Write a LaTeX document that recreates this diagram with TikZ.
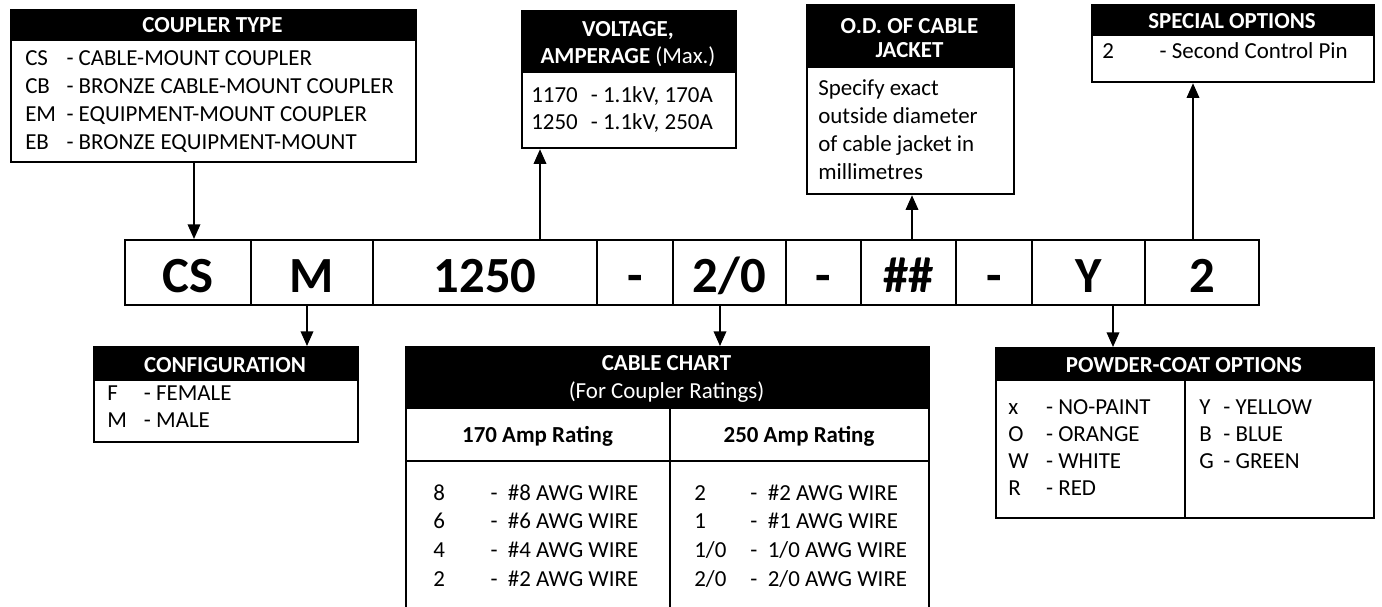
\documentclass[tikz,border=0pt]{standalone}
\usepackage{fontspec}
\setmainfont{Carlito}
\usetikzlibrary{arrows.meta,positioning,calc}
\definecolor{ink}{RGB}{0,0,0}
\newcommand{\px}{0.75pt}
\newcommand{\bodyfont}{\fontsize{17.2}{21}\selectfont}
\newcommand{\cellfont}{\fontsize{38}{40}\selectfont\bfseries}
\newcommand{\cd}[2]{\makebox[#1][l]{#2}}

\begin{document}
\begin{tikzpicture}[x=0.75pt,y=-0.75pt,
  box/.style={draw=ink,line width=1.7pt,anchor=north west,inner sep=0pt},
  head/.style={box,fill=ink},
  htxt/.style={anchor=base,text=white,font=\bodyfont\bfseries,inner sep=0pt},
  txt/.style={anchor=base west,font=\bodyfont,inner sep=0pt},
  cell/.style={draw=ink,line width=1.6pt,inner sep=0pt,minimum height=65*\px,
    text height=45*\px,text depth=6*\px,font=\cellfont},
  arr/.style={draw=ink,line width=1.1pt,-{Triangle[length=11pt,width=9.5pt]}}]
\useasboundingbox (0,0) rectangle (1382,607);

% part number
\foreach \s/\a/\b [count=\i] in {CS/125/251,M/251/373,1250/373/597,-/597/673,{2/0}/673/786,
    -/786/861,\#\#/861/956,-/956/1032,Y/1032/1145,2/1145/1259}
  \node[cell,minimum width=(\b-\a)*\px] (c\i) at ({(\a+\b)/2},272.5) {\s};

% coupler type
\node[box,minimum width=405*\px,minimum height=152*\px] (coupler) at (10,9) {};
\node[head,minimum width=405*\px,minimum height=30*\px] (couplerhd) at (10,9) {};
\node[htxt] (couplert) at (212.5,32) {COUPLER TYPE};
\foreach \k/\s [count=\r from 0] in {CS/CABLE-MOUNT COUPLER,CB/BRONZE CABLE-MOUNT COUPLER,
    EM/EQUIPMENT-MOUNT COUPLER,EB/BRONZE EQUIPMENT-MOUNT}
  \node[txt] (coupler\r) at (25,65+28*\r) {\cd{1.8em}{\k}- \s};

% voltage
\node[box,minimum width=214*\px,minimum height=137*\px] (volt) at (521,10) {};
\node[head,minimum width=214*\px,minimum height=61*\px] (volthd) at (521,10) {};
\node[htxt] (voltt) at (628,36) {VOLTAGE,};
\node[htxt] (voltu) at (628,63) {AMPERAGE \mdseries(Max.)};
\foreach \k/\s [count=\r from 0] in {1170/{1.1kV, 170A},1250/{1.1kV, 250A}}
  \node[txt] (volt\r) at (531,102+27*\r) {\cd{2.6em}{\k}- \s};

% o.d. of cable jacket
\node[box,minimum width=207*\px,minimum height=189*\px] (od) at (806,4) {};
\node[head,minimum width=207*\px,minimum height=62*\px] (odhd) at (806,4) {};
\node[htxt] (odt) at (909.5,33) {O.D. OF CABLE};
\node[htxt] (odu) at (909.5,57) {JACKET};
\foreach \s [count=\r from 0] in {Specify exact,outside diameter,of cable jacket in,millimetres}
  \node[txt] (od\r) at (818,95+28*\r) {\s};

% special options
\node[box,minimum width=282*\px,minimum height=77*\px] (spec) at (1091,4) {};
\node[head,minimum width=282*\px,minimum height=30*\px] (spechd) at (1091,4) {};
\node[htxt] (spect) at (1232,28) {SPECIAL OPTIONS};
\node[txt] (spec0) at (1102,58) {\cd{2.5em}{2}- Second Control Pin};

% configuration
\node[box,minimum width=264*\px,minimum height=95*\px] (conf) at (93,346) {};
\node[head,minimum width=264*\px,minimum height=33*\px] (confhd) at (93,346) {};
\node[htxt] (conft) at (225,372) {CONFIGURATION};
\foreach \k/\s [count=\r from 0] in {F/FEMALE,M/MALE}
  \node[txt] (conf\r) at (107,400+27*\r) {\cd{1.6em}{\k}- \s};

% cable chart
\node[box,minimum width=523*\px,minimum height=280*\px] (cable) at (405,346) {};
\node[head,minimum width=523*\px,minimum height=61*\px] (cablehd) at (405,346) {};
\node[htxt] (cablet) at (666.5,370) {CABLE CHART};
\node[htxt,font=\bodyfont] (cableu) at (666.5,398) {(For Coupler Ratings)};
\draw[line width=1.7pt] (405,461) -- (928,461);
\draw[line width=1.7pt] (670,407) -- (670,630);
\node[txt,anchor=base,font=\bodyfont\bfseries] (amp1) at (537.5,442) {170 Amp Rating};
\node[txt,anchor=base,font=\bodyfont\bfseries] (amp2) at (799,442) {250 Amp Rating};
\foreach \k/\s [count=\r from 0] in {8/\#8,6/\#6,4/\#4,2/\#2}
  \node[txt] (left\r) at (433,500+28.7*\r) {\cd{2.5em}{\k}-\ \ \s{} AWG WIRE};
\foreach \k/\s [count=\r from 0] in {2/\#2,1/\#1,{1/0}/{1/0},{2/0}/{2/0}}
  \node[txt] (right\r) at (694,500+28.7*\r) {\cd{2.45em}{\k}-\ \ \s{} AWG WIRE};

% powder-coat options
\node[box,minimum width=378*\px,minimum height=170*\px] (pwd) at (995,347) {};
\node[head,minimum width=378*\px,minimum height=32*\px] (pwdhd) at (995,347) {};
\node[htxt] (pwdt) at (1184,372) {POWDER-COAT OPTIONS};
\draw[line width=1.7pt] (1185,379) -- (1185,517);
\foreach \k/\s [count=\r from 0] in {x/NO-PAINT,O/ORANGE,W/WHITE,R/RED}
  \node[txt] (pwdl\r) at (1008,414+27*\r) {\cd{1.65em}{\k}- \s};
\foreach \k/\s [count=\r from 0] in {Y/YELLOW,B/BLUE,G/GREEN}
  \node[txt] (pwdr\r) at (1199,414+27*\r) {\cd{1.05em}{\k}- \s};

% arrows
\draw[arr] ([xshift=6*\px]c1.north |- coupler.south) -- ([xshift=6*\px]c1.north);
\draw[arr] ([xshift=55*\px]c3.north) -- ([xshift=55*\px]c3.north |- volt.south);
\draw[arr] ([xshift=3.5*\px]c7.north) -- ([xshift=3.5*\px]c7.north |- od.south);
\draw[arr] ([xshift=-9*\px]c10.north) -- ([xshift=-9*\px]c10.north |- spec.south);
\draw[arr] ([xshift=-5*\px]c2.south) -- ([xshift=-5*\px]c2.south |- conf.north);
\draw[arr] ([xshift=-9.5*\px]c5.south) -- ([xshift=-9.5*\px]c5.south |- cable.north);
\draw[arr] ([xshift=24.5*\px]c9.south) -- ([xshift=24.5*\px]c9.south |- pwd.north);
\end{tikzpicture}
\end{document}
